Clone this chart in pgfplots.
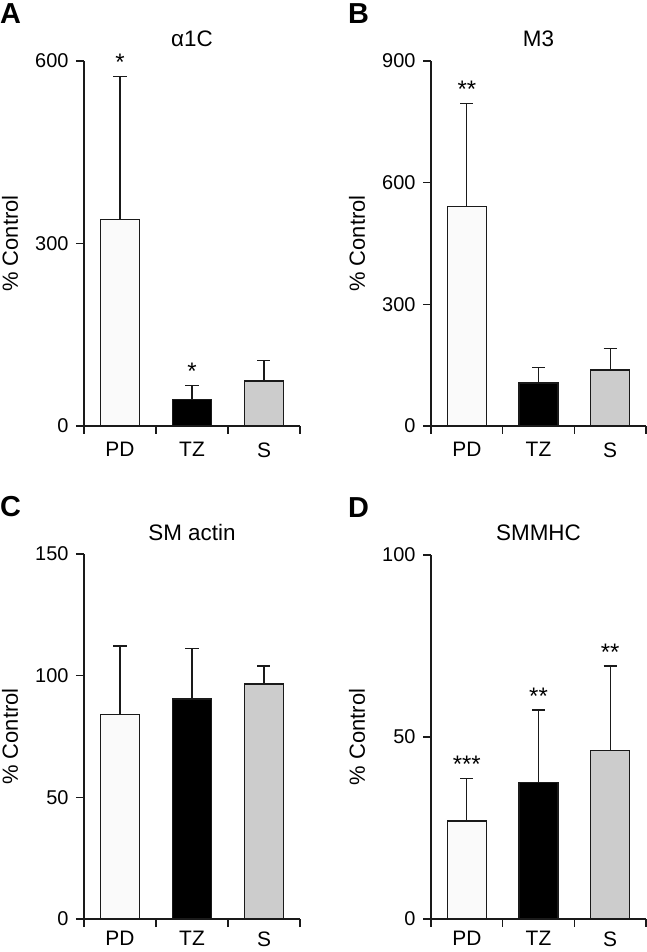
\documentclass[border=0pt]{standalone}
\usepackage{fontspec}
\setmainfont{Liberation Sans}
\usepackage{pgfplots}
\pgfplotsset{compat=1.18}

\definecolor{pdfill}{HTML}{FAFAFA}
\definecolor{sfill}{HTML}{CCCCCC}
\definecolor{ln}{HTML}{1A1A1A}

\newcommand{\tk}{\fontsize{20}{23}\selectfont}
\newcommand{\xl}{\fontsize{21}{24}\selectfont}
\newcommand{\ttl}{\fontsize{22.5}{25}\selectfont}
\newcommand{\st}{\fontsize{24}{26}\selectfont}

\pgfplotsset{
 panel/.style={
  scale only axis, width=216bp, height=365bp, anchor=south west,
  xmin=-0.5, xmax=2.5, ymin=0,
  axis x line*=bottom, axis y line*=left,
  axis line style={-, line width=1.2bp, color=ln},
  xtick={-0.5,0.5,1.5,2.5}, xticklabels={{},{},{},{}},
  extra x ticks={0,1,2}, extra x tick labels={PD,TZ,S},
  extra x tick style={major tick length=0pt, xticklabel style={font=\xl, yshift=-13bp}},
  tick align=outside, major tick length=8bp,
  every tick/.style={line width=1.2bp, color=ln},
  yticklabel style={font=\tk, xshift=-4bp},
  /pgf/number format/assume math mode=true,
  ylabel={\% Control},
  ylabel style={font=\fontsize{22}{24}\selectfont, at={([xshift=-74bp]axis description cs:0,0.5)}, anchor=center},
  title style={font=\ttl, at={(axis description cs:0.5,1)}, anchor=center, yshift=16bp},
  clip=false,
  ybar, bar width=39bp,
  error bars/y dir=plus, error bars/y explicit,
  error bars/error bar style={line width=1.2bp, color=ln},
  error bars/error mark options={rotate=90, line width=1.2bp, mark size=6.5bp, color=ln},
 },
 lower/.style={extra x tick style={xticklabel style={yshift=4bp}}},
 pd/.style={fill=pdfill, draw=ln, line width=1.2bp, bar shift=0pt},
 tz/.style={fill=black, draw=ln, line width=1.2bp, bar shift=0pt},
 ss/.style={fill=sfill, draw=ln, line width=1.2bp, bar shift=0pt},
}

\begin{document}
\begin{tikzpicture}
\useasboundingbox (0,0) rectangle (647bp,952bp);

% Panel A
\begin{axis}[panel, at={(84bp,526bp)}, ymax=600, ytick={0,300,600}, title={α1C}]
\addplot[pd] coordinates {(0,340) +- (0,235)};
\addplot[tz] coordinates {(1,44) +- (0,23)};
\addplot[ss] coordinates {(2,74) +- (0,34)};
\node[font=\st, anchor=base, yshift=6bp] at (axis cs:0,575) {*};
\node[font=\st, anchor=base, yshift=6bp] at (axis cs:1,67) {*};
\end{axis}

% Panel B
\begin{axis}[panel, at={(431bp,526bp)}, width=215bp, ymax=900, ytick={0,300,600,900}, title={M3}]
\addplot[pd] coordinates {(0,542) +- (0,254)};
\addplot[tz] coordinates {(1,106) +- (0,39)};
\addplot[ss] coordinates {(2,138) +- (0,54)};
\node[font=\st, anchor=base, yshift=6bp] at (axis cs:0,796) {**};
\end{axis}

% Panel C
\begin{axis}[panel, lower, at={(84bp,33bp)}, ymax=150, ytick={0,50,100,150}, title={SM actin}]
\addplot[pd] coordinates {(0,84.2) +- (0,28)};
\addplot[tz] coordinates {(1,90.4) +- (0,20.6)};
\addplot[ss] coordinates {(2,96.6) +- (0,7.4)};
\end{axis}

% Panel D
\begin{axis}[panel, lower, at={(431bp,33bp)}, width=215bp, height=364bp, ymax=100, ytick={0,50,100}, title={SMMHC}]
\addplot[pd] coordinates {(0,26.9) +- (0,11.8)};
\addplot[tz] coordinates {(1,37.4) +- (0,20)};
\addplot[ss] coordinates {(2,46.4) +- (0,23.1)};
\node[font=\st, anchor=base, yshift=6bp] at (axis cs:0,38.7) {***};
\node[font=\st, anchor=base, yshift=6bp] at (axis cs:1,57.4) {**};
\node[font=\st, anchor=base, yshift=6bp] at (axis cs:2,69.5) {**};
\end{axis}

% Panel letters
\node[anchor=north west, inner sep=0pt, font=\fontsize{29}{32}\selectfont\bfseries] at (0bp,949bp) {A};
\node[anchor=north west, inner sep=0pt, font=\fontsize{29}{32}\selectfont\bfseries] at (348bp,949bp) {B};
\node[anchor=north west, inner sep=0pt, font=\fontsize{29}{32}\selectfont\bfseries] at (0bp,456bp) {C};
\node[anchor=north west, inner sep=0pt, font=\fontsize{29}{32}\selectfont\bfseries] at (348bp,455bp) {D};
\end{tikzpicture}
\end{document}
